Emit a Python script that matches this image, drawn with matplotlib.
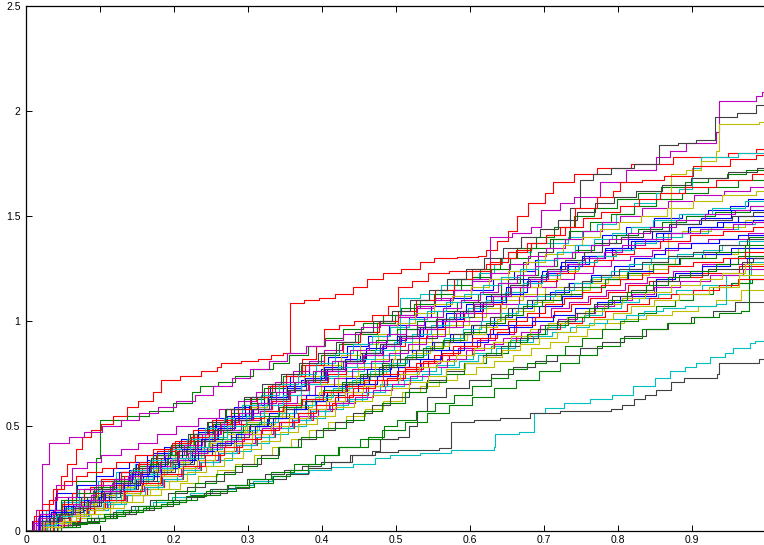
import matplotlib
matplotlib.use('Agg')
import matplotlib.pyplot as plt

x_ticks = [0, 0.1, 0.2, 0.3, 0.4, 0.5, 0.6, 0.7, 0.8, 0.9]
x_tick_labels = ['0', '0.1', '0.2', '0.3', '0.4', '0.5', '0.6', '0.7', '0.8', '0.9']
y_ticks = [0, 0.5, 1, 1.5, 2, 2.5]
y_tick_labels = ['0', '0.5', '1', '1.5', '2', '2.5']

# each path: list of (x, y) jump points of a step curve (value after the jump)
path_b1 = [(0,0),(0.013,0.03),(0.031,0.06),(0.052,0.1),(0.071,0.14),(0.093,0.19),(0.118,0.24),(0.139,0.29),(0.163,0.34),(0.186,0.39),(0.209,0.44),(0.232,0.49),(0.257,0.54),(0.281,0.59),(0.304,0.64),(0.33,0.69),(0.357,0.74),(0.383,0.79),(0.408,0.83),(0.434,0.88),(0.462,0.93),(0.491,0.98),(0.518,1.02),(0.547,1.07),(0.573,1.11),(0.602,1.15),(0.631,1.2),(0.659,1.24),(0.688,1.29),(0.717,1.33),(0.746,1.36),(0.779,1.41),(0.811,1.45),(0.848,1.49),(0.887,1.51),(0.921,1.53),(0.952,1.55),(0.976,1.58),(1.0,1.58)]
path_b2 = [(0,0),(0.018,0.05),(0.031,0.1),(0.057,0.16),(0.078,0.2),(0.101,0.24),(0.126,0.28),(0.148,0.32),(0.172,0.37),(0.196,0.41),(0.221,0.45),(0.247,0.5),(0.272,0.55),(0.296,0.6),(0.322,0.64),(0.347,0.68),(0.371,0.72),(0.398,0.77),(0.426,0.81),(0.452,0.85),(0.479,0.89),(0.507,0.93),(0.536,0.97),(0.563,1.01),(0.591,1.05),(0.618,1.09),(0.648,1.14),(0.677,1.19),(0.703,1.23),(0.732,1.27),(0.761,1.31),(0.792,1.35),(0.823,1.38),(0.861,1.42),(0.897,1.45),(0.934,1.47),(0.962,1.5),(1.0,1.5)]
path_b3 = [(0,0),(0.008,0.05),(0.022,0.1),(0.041,0.18),(0.069,0.22),(0.094,0.26),(0.117,0.3),(0.139,0.33),(0.163,0.36),(0.186,0.4),(0.207,0.43),(0.232,0.47),(0.256,0.51),(0.279,0.55),(0.302,0.6),(0.327,0.64),(0.353,0.69),(0.377,0.73),(0.403,0.78),(0.431,0.82),(0.459,0.87),(0.486,0.91),(0.513,0.96),(0.539,1.0),(0.567,1.04),(0.594,1.08),(0.622,1.12),(0.648,1.16),(0.671,1.2),(0.697,1.24),(0.723,1.28),(0.752,1.31),(0.783,1.35),(0.814,1.39),(0.846,1.43),(0.871,1.46),(0.912,1.49),(0.953,1.53),(1.0,1.53)]
path_b4 = [(0,0),(0.028,0.04),(0.052,0.08),(0.073,0.12),(0.098,0.16),(0.122,0.2),(0.148,0.25),(0.173,0.29),(0.196,0.33),(0.224,0.38),(0.251,0.42),(0.277,0.47),(0.303,0.51),(0.329,0.56),(0.352,0.6),(0.378,0.65),(0.403,0.69),(0.432,0.73),(0.461,0.77),(0.493,0.82),(0.522,0.86),(0.548,0.9),(0.573,0.94),(0.604,0.98),(0.633,1.02),(0.657,1.06),(0.684,1.1),(0.708,1.14),(0.734,1.18),(0.764,1.22),(0.794,1.26),(0.822,1.3),(0.848,1.32),(0.863,1.35),(0.898,1.37),(0.937,1.39),(0.962,1.41),(1.0,1.41)]
path_b5 = [(0,0),(0.019,0.03),(0.043,0.07),(0.062,0.1),(0.087,0.14),(0.112,0.18),(0.133,0.22),(0.154,0.26),(0.182,0.3),(0.206,0.34),(0.229,0.38),(0.252,0.42),(0.277,0.46),(0.301,0.5),(0.326,0.54),(0.352,0.58),(0.379,0.62),(0.407,0.66),(0.434,0.7),(0.463,0.74),(0.492,0.78),(0.517,0.82),(0.543,0.86),(0.572,0.9),(0.603,0.94),(0.631,0.98),(0.662,1.02),(0.693,1.07),(0.724,1.12),(0.751,1.16),(0.782,1.2),(0.814,1.24),(0.847,1.27),(0.882,1.3),(0.914,1.32),(0.953,1.35),(1.0,1.35)]
path_b6 = [(0,0),(0.022,0.05),(0.041,0.09),(0.063,0.12),(0.084,0.15),(0.107,0.18),(0.133,0.22),(0.158,0.26),(0.183,0.3),(0.207,0.34),(0.232,0.38),(0.258,0.42),(0.284,0.46),(0.309,0.5),(0.334,0.54),(0.362,0.58),(0.392,0.62),(0.421,0.66),(0.448,0.7),(0.474,0.74),(0.503,0.78),(0.532,0.82),(0.561,0.86),(0.592,0.9),(0.624,0.94),(0.653,0.97),(0.684,1.0),(0.712,1.03),(0.742,1.06),(0.772,1.09),(0.803,1.12),(0.852,1.2),(0.877,1.23),(0.913,1.26),(0.952,1.3),(1.0,1.3)]
path_b7 = [(0,0),(0.017,0.07),(0.034,0.09),(0.052,0.12),(0.078,0.15),(0.101,0.19),(0.122,0.23),(0.143,0.27),(0.166,0.31),(0.188,0.35),(0.211,0.39),(0.236,0.44),(0.259,0.49),(0.283,0.54),(0.307,0.58),(0.331,0.63),(0.356,0.67),(0.381,0.72),(0.407,0.77),(0.432,0.81),(0.458,0.85),(0.483,0.89),(0.502,0.93),(0.533,0.97),(0.562,1.01),(0.587,1.05),(0.613,1.09),(0.642,1.13),(0.672,1.18),(0.696,1.22),(0.722,1.26),(0.751,1.3),(0.783,1.34),(0.818,1.38),(0.852,1.42),(0.894,1.45),(0.942,1.47),(0.982,1.48),(1.0,1.48)]

path_g1 = [(0,0),(0.018,0.05),(0.047,0.12),(0.068,0.24),(0.094,0.35),(0.1,0.53),(0.137,0.55),(0.166,0.57),(0.198,0.61),(0.224,0.66),(0.235,0.69),(0.259,0.71),(0.283,0.74),(0.307,0.77),(0.334,0.8),(0.356,0.84),(0.381,0.88),(0.404,0.92),(0.428,0.96),(0.456,0.99),(0.482,1.03),(0.507,1.06),(0.533,1.1),(0.561,1.15),(0.588,1.2),(0.613,1.25),(0.641,1.3),(0.664,1.35),(0.689,1.4),(0.714,1.45),(0.741,1.5),(0.768,1.54),(0.798,1.58),(0.827,1.61),(0.858,1.64),(0.891,1.66),(0.922,1.68),(0.947,1.7),(0.973,1.72),(1.0,1.72)]
path_g2 = [(0,0),(0.027,0.06),(0.048,0.1),(0.072,0.15),(0.097,0.2),(0.121,0.25),(0.147,0.3),(0.172,0.36),(0.196,0.41),(0.221,0.46),(0.246,0.52),(0.27,0.58),(0.294,0.63),(0.321,0.68),(0.347,0.74),(0.372,0.79),(0.398,0.84),(0.423,0.89),(0.449,0.94),(0.474,0.99),(0.499,1.03),(0.524,1.08),(0.551,1.13),(0.578,1.17),(0.603,1.21),(0.628,1.25),(0.654,1.3),(0.681,1.35),(0.708,1.39),(0.734,1.43),(0.762,1.47),(0.791,1.51),(0.822,1.55),(0.852,1.58),(0.887,1.61),(0.922,1.64),(0.962,1.67),(1.0,1.67)]
path_g3 = [(0,0),(0.021,0.04),(0.042,0.08),(0.061,0.12),(0.083,0.16),(0.103,0.21),(0.128,0.26),(0.152,0.31),(0.176,0.36),(0.201,0.41),(0.227,0.46),(0.253,0.51),(0.277,0.56),(0.304,0.61),(0.331,0.66),(0.362,0.71),(0.391,0.76),(0.422,0.81),(0.447,0.86),(0.473,0.91),(0.502,0.96),(0.528,1.0),(0.556,1.05),(0.583,1.09),(0.611,1.13),(0.642,1.18),(0.667,1.22),(0.692,1.26),(0.717,1.3),(0.742,1.34),(0.768,1.37),(0.797,1.41),(0.827,1.44),(0.859,1.47),(0.892,1.5),(0.931,1.52),(0.978,1.55),(1.0,1.55)]
path_g4 = [(0,0),(0.038,0.02),(0.062,0.035),(0.083,0.05),(0.107,0.07),(0.134,0.09),(0.158,0.11),(0.182,0.13),(0.207,0.15),(0.231,0.17),(0.262,0.19),(0.284,0.21),(0.308,0.23),(0.334,0.26),(0.357,0.29),(0.381,0.32),(0.403,0.36),(0.422,0.4),(0.462,0.45),(0.484,0.5),(0.502,0.53),(0.527,0.57),(0.553,0.61),(0.578,0.65),(0.603,0.69),(0.628,0.73),(0.652,0.77),(0.677,0.8),(0.703,0.84),(0.728,0.88),(0.752,0.92),(0.778,0.96),(0.803,1.0),(0.827,1.04),(0.852,1.07),(0.877,1.1),(0.902,1.13),(0.928,1.16),(0.953,1.18),(0.981,1.2),(1.0,1.2)]
path_g5 = [(0,0),(0.032,0.02),(0.057,0.04),(0.082,0.06),(0.106,0.08),(0.131,0.1),(0.162,0.12),(0.191,0.14),(0.216,0.165),(0.243,0.19),(0.271,0.22),(0.302,0.25),(0.331,0.28),(0.362,0.32),(0.391,0.36),(0.423,0.4),(0.452,0.44),(0.481,0.48),(0.512,0.52),(0.542,0.56),(0.571,0.6),(0.603,0.64),(0.632,0.68),(0.662,0.72),(0.693,0.76),(0.722,0.8),(0.747,0.84),(0.772,0.88),(0.803,0.92),(0.832,0.96),(0.866,0.99),(0.903,1.02),(0.937,1.04),(0.966,1.05),(0.977,1.4),(1.0,1.4)]
path_g6 = [(0,0),(0.019,0.08),(0.047,0.15),(0.068,0.18),(0.092,0.21),(0.117,0.24),(0.143,0.28),(0.168,0.32),(0.192,0.36),(0.217,0.4),(0.242,0.44),(0.266,0.47),(0.293,0.51),(0.318,0.55),(0.342,0.59),(0.371,0.63),(0.402,0.67),(0.427,0.71),(0.452,0.75),(0.482,0.79),(0.512,0.83),(0.537,0.87),(0.563,0.91),(0.592,0.95),(0.622,0.99),(0.647,1.03),(0.672,1.07),(0.697,1.1),(0.723,1.13),(0.752,1.16),(0.782,1.2),(0.812,1.23),(0.847,1.27),(0.884,1.3),(0.932,1.33),(0.972,1.36),(1.0,1.36)]
path_g7 = [(0,0),(0.047,0.02),(0.073,0.04),(0.098,0.06),(0.122,0.09),(0.151,0.12),(0.176,0.15),(0.202,0.19),(0.228,0.23),(0.257,0.27),(0.283,0.31),(0.312,0.35),(0.341,0.4),(0.372,0.45),(0.401,0.49),(0.432,0.53),(0.457,0.57),(0.481,0.61),(0.512,0.66),(0.541,0.71),(0.567,0.75),(0.592,0.8),(0.622,0.85),(0.651,0.9),(0.677,0.94),(0.702,0.98),(0.732,1.02),(0.761,1.06),(0.787,1.1),(0.812,1.14),(0.838,1.17),(0.867,1.21),(0.897,1.24),(0.932,1.27),(0.962,1.31),(1.0,1.31)]

path_r1 = [(0,0),(0.011,0.07),(0.022,0.13),(0.036,0.2),(0.047,0.26),(0.056,0.32),(0.067,0.39),(0.076,0.45),(0.088,0.48),(0.102,0.51),(0.118,0.55),(0.136,0.59),(0.152,0.62),(0.171,0.66),(0.182,0.72),(0.208,0.74),(0.236,0.76),(0.258,0.78),(0.263,0.8),(0.291,0.81),(0.313,0.82),(0.331,0.84),(0.347,0.85),(0.357,1.085),(0.376,1.1),(0.396,1.11),(0.418,1.13),(0.442,1.16),(0.461,1.2),(0.483,1.23),(0.507,1.25),(0.532,1.28),(0.551,1.3),(0.583,1.305),(0.611,1.31),(0.621,1.34),(0.637,1.38),(0.652,1.43),(0.663,1.5),(0.678,1.56),(0.701,1.61),(0.712,1.66),(0.741,1.7),(0.772,1.73),(0.818,1.75),(0.874,1.78),(0.948,1.8),(0.986,1.82),(1.0,1.82)]
path_r2 = [(0,0),(0.021,0.05),(0.036,0.1),(0.052,0.15),(0.078,0.2),(0.102,0.25),(0.128,0.28),(0.152,0.32),(0.177,0.36),(0.203,0.4),(0.231,0.46),(0.262,0.52),(0.287,0.58),(0.312,0.64),(0.333,0.7),(0.352,0.75),(0.373,0.82),(0.392,0.88),(0.403,0.96),(0.423,0.98),(0.443,1.0),(0.468,1.03),(0.489,1.07),(0.503,1.16),(0.522,1.19),(0.543,1.23),(0.571,1.24),(0.603,1.25),(0.622,1.27),(0.642,1.3),(0.662,1.34),(0.682,1.37),(0.703,1.41),(0.722,1.45),(0.742,1.54),(0.772,1.59),(0.793,1.62),(0.803,1.66),(0.832,1.67),(0.862,1.69),(0.901,1.74),(0.951,1.77),(0.986,1.79),(1.0,1.79)]
path_r3 = [(0,0),(0.027,0.08),(0.048,0.13),(0.062,0.18),(0.087,0.21),(0.104,0.24),(0.128,0.28),(0.153,0.33),(0.177,0.38),(0.202,0.43),(0.226,0.48),(0.252,0.53),(0.277,0.58),(0.303,0.64),(0.327,0.69),(0.352,0.74),(0.377,0.79),(0.403,0.85),(0.428,0.9),(0.452,0.95),(0.477,1.0),(0.503,1.05),(0.527,1.1),(0.553,1.15),(0.578,1.2),(0.603,1.24),(0.627,1.28),(0.652,1.33),(0.677,1.37),(0.703,1.41),(0.728,1.45),(0.753,1.49),(0.777,1.52),(0.803,1.55),(0.828,1.58),(0.857,1.61),(0.891,1.64),(0.932,1.67),(0.981,1.7),(1.0,1.7)]
path_r4 = [(0,0),(0.018,0.03),(0.037,0.07),(0.053,0.1),(0.072,0.14),(0.093,0.18),(0.113,0.22),(0.132,0.26),(0.157,0.3),(0.182,0.35),(0.207,0.39),(0.233,0.44),(0.258,0.49),(0.283,0.53),(0.307,0.58),(0.332,0.62),(0.357,0.67),(0.383,0.71),(0.408,0.75),(0.432,0.8),(0.457,0.84),(0.483,0.88),(0.512,0.92),(0.542,0.96),(0.566,1.0),(0.592,1.04),(0.616,1.08),(0.643,1.12),(0.667,1.16),(0.692,1.19),(0.717,1.23),(0.742,1.26),(0.768,1.29),(0.793,1.32),(0.822,1.35),(0.857,1.38),(0.897,1.41),(0.942,1.43),(0.982,1.45),(1.0,1.45)]
path_r5 = [(0,0),(0.028,0.02),(0.052,0.05),(0.073,0.08),(0.092,0.11),(0.113,0.14),(0.137,0.17),(0.163,0.21),(0.187,0.25),(0.212,0.29),(0.237,0.33),(0.262,0.37),(0.288,0.41),(0.312,0.45),(0.337,0.49),(0.362,0.53),(0.388,0.57),(0.413,0.61),(0.437,0.65),(0.462,0.69),(0.488,0.73),(0.512,0.77),(0.537,0.81),(0.562,0.85),(0.587,0.88),(0.613,0.92),(0.637,0.95),(0.662,0.98),(0.688,1.02),(0.713,1.05),(0.737,1.08),(0.762,1.11),(0.787,1.14),(0.813,1.17),(0.842,1.19),(0.873,1.21),(0.913,1.23),(0.963,1.26),(1.0,1.26)]
path_r6 = [(0,0),(0.009,0.05),(0.018,0.1),(0.031,0.15),(0.042,0.2),(0.051,0.24),(0.067,0.26),(0.082,0.28),(0.103,0.3),(0.122,0.33),(0.147,0.36),(0.172,0.39),(0.197,0.42),(0.223,0.45),(0.247,0.48),(0.272,0.51),(0.297,0.54),(0.322,0.57),(0.347,0.6),(0.373,0.63),(0.402,0.66),(0.432,0.69),(0.457,0.72),(0.483,0.75),(0.512,0.78),(0.543,0.81),(0.572,0.84),(0.603,0.87),(0.632,0.9),(0.662,0.93),(0.692,0.96),(0.722,0.99),(0.752,1.02),(0.782,1.05),(0.812,1.08),(0.842,1.11),(0.872,1.13),(0.902,1.15),(0.937,1.17),(0.962,1.2),(1.0,1.2)]
path_r7 = [(0,0),(0.037,0.05),(0.058,0.08),(0.082,0.11),(0.107,0.15),(0.133,0.19),(0.157,0.23),(0.183,0.27),(0.212,0.31),(0.242,0.36),(0.267,0.4),(0.292,0.44),(0.317,0.48),(0.342,0.52),(0.367,0.56),(0.392,0.6),(0.417,0.64),(0.442,0.68),(0.472,0.72),(0.502,0.76),(0.527,0.8),(0.552,0.84),(0.577,0.88),(0.603,0.92),(0.627,0.96),(0.652,1.0),(0.677,1.04),(0.702,1.08),(0.727,1.11),(0.752,1.14),(0.777,1.17),(0.803,1.2),(0.832,1.23),(0.867,1.26),(0.902,1.28),(0.942,1.3),(0.972,1.33),(1.0,1.33)]

path_c1 = [(0,0),(0.027,0.1),(0.048,0.14),(0.071,0.2),(0.097,0.24),(0.122,0.28),(0.147,0.32),(0.172,0.36),(0.197,0.4),(0.222,0.45),(0.247,0.49),(0.272,0.53),(0.297,0.56),(0.322,0.6),(0.352,0.65),(0.382,0.7),(0.407,0.73),(0.432,0.76),(0.457,0.8),(0.482,0.84),(0.505,1.11),(0.532,1.13),(0.561,1.17),(0.582,1.2),(0.612,1.23),(0.632,1.27),(0.643,1.3),(0.652,1.33),(0.682,1.37),(0.732,1.4),(0.752,1.43),(0.772,1.46),(0.797,1.51),(0.822,1.56),(0.852,1.61),(0.882,1.63),(0.9,1.73),(0.912,1.78),(0.962,1.8),(1.0,1.8)]
path_c2 = [(0,0),(0.027,0.03),(0.052,0.045),(0.072,0.06),(0.097,0.08),(0.122,0.1),(0.147,0.12),(0.172,0.14),(0.197,0.16),(0.222,0.18),(0.252,0.2),(0.282,0.22),(0.307,0.24),(0.332,0.26),(0.357,0.275),(0.382,0.29),(0.412,0.305),(0.442,0.32),(0.471,0.35),(0.492,0.36),(0.532,0.372),(0.575,0.385),(0.632,0.4),(0.634,0.46),(0.666,0.47),(0.686,0.56),(0.701,0.585),(0.727,0.61),(0.762,0.63),(0.792,0.65),(0.82,0.69),(0.85,0.73),(0.87,0.76),(0.89,0.78),(0.905,0.8),(0.925,0.83),(0.945,0.85),(0.955,0.87),(0.978,0.895),(0.985,0.905),(1.0,0.905)]
path_c3 = [(0,0),(0.038,0.04),(0.059,0.07),(0.078,0.1),(0.104,0.13),(0.129,0.17),(0.154,0.2),(0.178,0.24),(0.204,0.27),(0.228,0.31),(0.253,0.34),(0.278,0.38),(0.304,0.42),(0.328,0.46),(0.354,0.5),(0.378,0.54),(0.404,0.58),(0.428,0.62),(0.454,0.66),(0.478,0.7),(0.503,0.73),(0.528,0.76),(0.554,0.79),(0.578,0.82),(0.604,0.85),(0.628,0.88),(0.654,0.91),(0.678,0.94),(0.704,0.97),(0.728,1.0),(0.754,1.03),(0.778,1.06),(0.804,1.09),(0.828,1.11),(0.854,1.13),(0.878,1.15),(0.914,1.17),(0.954,1.18),(0.978,1.2),(1.0,1.2)]
path_c4 = [(0,0),(0.022,0.05),(0.038,0.08),(0.053,0.11),(0.072,0.15),(0.092,0.19),(0.117,0.24),(0.142,0.29),(0.167,0.34),(0.192,0.39),(0.217,0.44),(0.242,0.49),(0.267,0.54),(0.292,0.6),(0.317,0.65),(0.342,0.7),(0.367,0.75),(0.392,0.8),(0.417,0.85),(0.442,0.89),(0.467,0.93),(0.492,0.97),(0.517,1.01),(0.542,1.05),(0.567,1.09),(0.592,1.13),(0.617,1.17),(0.642,1.21),(0.667,1.25),(0.692,1.29),(0.717,1.33),(0.742,1.36),(0.767,1.39),(0.792,1.42),(0.817,1.45),(0.847,1.48),(0.882,1.51),(0.927,1.54),(0.972,1.57),(1.0,1.57)]
path_c5 = [(0,0),(0.028,0.07),(0.062,0.12),(0.09,0.15),(0.115,0.19),(0.14,0.23),(0.165,0.27),(0.19,0.31),(0.215,0.35),(0.24,0.39),(0.265,0.44),(0.29,0.48),(0.315,0.52),(0.34,0.56),(0.365,0.6),(0.39,0.64),(0.415,0.68),(0.44,0.72),(0.465,0.76),(0.49,0.8),(0.515,0.84),(0.54,0.88),(0.565,0.92),(0.59,0.96),(0.615,1.0),(0.64,1.04),(0.665,1.08),(0.69,1.12),(0.715,1.15),(0.74,1.18),(0.765,1.21),(0.79,1.24),(0.815,1.27),(0.845,1.3),(0.88,1.32),(0.915,1.34),(0.94,1.36),(0.963,1.38),(1.0,1.38)]
path_c6 = [(0,0),(0.036,0.04),(0.061,0.07),(0.085,0.1),(0.111,0.13),(0.135,0.17),(0.161,0.21),(0.185,0.25),(0.211,0.29),(0.235,0.33),(0.261,0.37),(0.285,0.41),(0.311,0.45),(0.335,0.49),(0.361,0.53),(0.385,0.57),(0.411,0.6),(0.435,0.63),(0.461,0.66),(0.485,0.69),(0.511,0.72),(0.535,0.75),(0.561,0.78),(0.585,0.81),(0.611,0.84),(0.635,0.87),(0.661,0.9),(0.685,0.93),(0.711,0.95),(0.735,0.97),(0.761,0.99),(0.785,1.01),(0.811,1.03),(0.835,1.05),(0.861,1.06),(0.891,1.07),(0.932,1.08),(0.946,1.22),(0.98,1.28),(1.0,1.28)]
path_c7 = [(0,0),(0.021,0.03),(0.041,0.07),(0.062,0.11),(0.082,0.14),(0.122,0.2),(0.147,0.25),(0.172,0.3),(0.197,0.35),(0.222,0.4),(0.247,0.45),(0.272,0.5),(0.297,0.55),(0.322,0.6),(0.347,0.65),(0.372,0.7),(0.397,0.74),(0.422,0.78),(0.447,0.82),(0.472,0.86),(0.497,0.9),(0.522,0.94),(0.547,0.98),(0.572,1.02),(0.597,1.06),(0.622,1.1),(0.647,1.14),(0.672,1.18),(0.697,1.22),(0.722,1.25),(0.747,1.28),(0.772,1.31),(0.797,1.34),(0.822,1.37),(0.852,1.4),(0.887,1.42),(0.922,1.44),(0.962,1.46),(0.985,1.47),(1.0,1.47)]

path_m1 = [(0,0),(0.017,0.08),(0.031,0.15),(0.041,0.22),(0.062,0.3),(0.083,0.33),(0.102,0.36),(0.128,0.39),(0.151,0.42),(0.177,0.46),(0.203,0.5),(0.232,0.54),(0.261,0.58),(0.287,0.62),(0.311,0.66),(0.336,0.71),(0.361,0.76),(0.382,0.81),(0.403,0.86),(0.427,0.9),(0.452,0.95),(0.477,0.98),(0.503,1.02),(0.527,1.06),(0.552,1.1),(0.577,1.15),(0.603,1.2),(0.627,1.40),(0.657,1.42),(0.682,1.45),(0.696,1.53),(0.721,1.56),(0.741,1.59),(0.776,1.66),(0.811,1.72),(0.852,1.78),(0.87,1.81),(0.892,1.85),(0.932,1.9),(0.936,2.05),(0.986,2.07),(0.995,2.09),(1.0,2.09)]
path_m2 = [(0,0),(0.014,0.1),(0.021,0.32),(0.031,0.42),(0.058,0.45),(0.078,0.47),(0.103,0.5),(0.128,0.53),(0.153,0.56),(0.178,0.59),(0.203,0.62),(0.228,0.65),(0.253,0.69),(0.278,0.73),(0.303,0.77),(0.328,0.81),(0.353,0.85),(0.378,0.88),(0.403,0.91),(0.428,0.94),(0.453,0.97),(0.478,1.0),(0.503,1.03),(0.528,1.07),(0.553,1.11),(0.578,1.15),(0.603,1.19),(0.628,1.23),(0.653,1.27),(0.678,1.31),(0.703,1.35),(0.728,1.39),(0.753,1.43),(0.778,1.47),(0.803,1.5),(0.833,1.54),(0.868,1.57),(0.903,1.6),(0.943,1.62),(0.978,1.64),(1.0,1.64)]
path_m3 = [(0,0),(0.016,0.06),(0.034,0.09),(0.051,0.12),(0.071,0.15),(0.091,0.19),(0.116,0.23),(0.141,0.27),(0.166,0.31),(0.191,0.35),(0.216,0.39),(0.241,0.44),(0.266,0.48),(0.291,0.53),(0.316,0.57),(0.341,0.61),(0.366,0.65),(0.391,0.69),(0.416,0.73),(0.441,0.77),(0.466,0.81),(0.491,0.85),(0.516,0.89),(0.541,0.93),(0.566,0.97),(0.591,1.0),(0.616,1.04),(0.641,1.08),(0.666,1.12),(0.691,1.16),(0.716,1.2),(0.741,1.23),(0.766,1.26),(0.791,1.29),(0.816,1.31),(0.846,1.34),(0.881,1.37),(0.921,1.39),(0.976,1.42),(1.0,1.42)]
path_m4 = [(0,0),(0.029,0.03),(0.059,0.07),(0.084,0.11),(0.109,0.15),(0.134,0.19),(0.159,0.22),(0.184,0.26),(0.209,0.3),(0.234,0.34),(0.259,0.38),(0.284,0.42),(0.309,0.46),(0.334,0.5),(0.359,0.54),(0.384,0.58),(0.409,0.62),(0.434,0.66),(0.459,0.69),(0.484,0.72),(0.509,0.76),(0.534,0.8),(0.559,0.84),(0.584,0.87),(0.609,0.91),(0.634,0.94),(0.659,0.98),(0.684,1.02),(0.709,1.06),(0.734,1.09),(0.759,1.12),(0.784,1.15),(0.809,1.18),(0.839,1.21),(0.874,1.24),(0.914,1.27),(0.975,1.3),(1.0,1.3)]
path_m5 = [(0,0),(0.011,0.04),(0.038,0.1),(0.063,0.13),(0.088,0.17),(0.113,0.21),(0.138,0.26),(0.163,0.31),(0.188,0.36),(0.213,0.41),(0.238,0.46),(0.263,0.51),(0.288,0.56),(0.313,0.61),(0.338,0.66),(0.363,0.71),(0.388,0.76),(0.413,0.81),(0.438,0.86),(0.463,0.9),(0.488,0.94),(0.513,0.98),(0.538,1.02),(0.563,1.06),(0.588,1.1),(0.613,1.14),(0.638,1.18),(0.663,1.22),(0.688,1.26),(0.713,1.3),(0.738,1.33),(0.763,1.36),(0.788,1.39),(0.813,1.42),(0.843,1.45),(0.878,1.48),(0.918,1.51),(0.958,1.53),(0.978,1.55),(1.0,1.55)]
path_m6 = [(0,0),(0.019,0.08),(0.039,0.16),(0.069,0.2),(0.094,0.22),(0.119,0.25),(0.144,0.28),(0.169,0.31),(0.194,0.34),(0.219,0.37),(0.244,0.4),(0.269,0.43),(0.294,0.46),(0.319,0.49),(0.344,0.52),(0.369,0.55),(0.394,0.58),(0.419,0.61),(0.444,0.64),(0.469,0.67),(0.494,0.7),(0.519,0.74),(0.544,0.78),(0.569,0.82),(0.594,0.86),(0.619,0.89),(0.644,0.92),(0.669,0.95),(0.694,0.98),(0.719,1.01),(0.744,1.04),(0.769,1.07),(0.794,1.1),(0.819,1.13),(0.849,1.16),(0.884,1.19),(0.924,1.22),(0.969,1.25),(1.0,1.25)]
path_m7 = [(0,0),(0.026,0.05),(0.046,0.08),(0.066,0.12),(0.086,0.15),(0.106,0.19),(0.131,0.23),(0.156,0.28),(0.181,0.33),(0.206,0.38),(0.231,0.43),(0.256,0.48),(0.281,0.53),(0.306,0.58),(0.331,0.63),(0.356,0.67),(0.381,0.72),(0.406,0.76),(0.431,0.8),(0.456,0.84),(0.481,0.88),(0.506,0.92),(0.531,0.96),(0.556,1.0),(0.581,1.04),(0.606,1.08),(0.631,1.12),(0.656,1.16),(0.681,1.2),(0.706,1.24),(0.731,1.27),(0.756,1.3),(0.781,1.33),(0.806,1.36),(0.836,1.39),(0.871,1.42),(0.911,1.44),(0.956,1.46),(0.981,1.47),(1.0,1.47)]

path_y1 = [(0,0),(0.024,0.04),(0.048,0.08),(0.072,0.12),(0.098,0.16),(0.122,0.2),(0.148,0.25),(0.172,0.29),(0.198,0.34),(0.222,0.38),(0.248,0.43),(0.272,0.47),(0.298,0.52),(0.322,0.56),(0.348,0.61),(0.372,0.65),(0.398,0.7),(0.422,0.74),(0.448,0.78),(0.472,0.82),(0.498,0.86),(0.522,0.9),(0.548,0.94),(0.572,0.98),(0.598,1.02),(0.622,1.06),(0.648,1.1),(0.672,1.13),(0.702,1.16),(0.732,1.18),(0.762,1.2),(0.802,1.22),(0.842,1.25),(0.868,1.42),(0.872,1.7),(0.892,1.72),(0.912,1.76),(0.932,1.81),(0.936,1.94),(0.99,1.95),(1.0,1.95)]
path_y2 = [(0,0),(0.016,0.03),(0.036,0.06),(0.061,0.1),(0.081,0.14),(0.101,0.18),(0.126,0.23),(0.151,0.28),(0.176,0.33),(0.201,0.38),(0.226,0.43),(0.251,0.48),(0.276,0.53),(0.301,0.59),(0.326,0.64),(0.351,0.69),(0.376,0.74),(0.401,0.79),(0.426,0.84),(0.451,0.89),(0.476,0.94),(0.501,0.99),(0.526,1.04),(0.551,1.08),(0.576,1.12),(0.601,1.16),(0.626,1.2),(0.651,1.24),(0.676,1.28),(0.701,1.32),(0.726,1.36),(0.751,1.4),(0.776,1.44),(0.801,1.47),(0.831,1.5),(0.866,1.54),(0.901,1.57),(0.941,1.6),(0.986,1.62),(1.0,1.62)]
path_y3 = [(0,0),(0.043,0.03),(0.068,0.06),(0.088,0.08),(0.113,0.11),(0.133,0.14),(0.158,0.17),(0.183,0.2),(0.208,0.23),(0.233,0.26),(0.258,0.29),(0.283,0.32),(0.308,0.36),(0.333,0.4),(0.358,0.44),(0.383,0.48),(0.408,0.52),(0.433,0.55),(0.458,0.58),(0.483,0.62),(0.508,0.66),(0.533,0.69),(0.558,0.72),(0.583,0.75),(0.608,0.78),(0.633,0.81),(0.658,0.84),(0.683,0.87),(0.708,0.9),(0.733,0.93),(0.758,0.96),(0.783,0.99),(0.808,1.01),(0.838,1.03),(0.873,1.05),(0.908,1.07),(0.933,1.1),(0.966,1.15),(1.0,1.15)]
path_y4 = [(0,0),(0.027,0.05),(0.052,0.08),(0.072,0.11),(0.092,0.14),(0.112,0.18),(0.137,0.22),(0.162,0.26),(0.187,0.3),(0.212,0.35),(0.237,0.39),(0.262,0.43),(0.287,0.47),(0.312,0.51),(0.337,0.55),(0.362,0.59),(0.387,0.63),(0.412,0.67),(0.437,0.71),(0.462,0.75),(0.487,0.79),(0.512,0.83),(0.537,0.86),(0.562,0.9),(0.587,0.94),(0.612,0.97),(0.637,1.01),(0.662,1.05),(0.687,1.09),(0.712,1.12),(0.737,1.15),(0.762,1.18),(0.787,1.21),(0.812,1.24),(0.842,1.27),(0.877,1.3),(0.917,1.32),(0.962,1.35),(1.0,1.35)]
path_y5 = [(0,0),(0.021,0.04),(0.041,0.07),(0.056,0.1),(0.076,0.13),(0.096,0.17),(0.121,0.21),(0.146,0.25),(0.171,0.29),(0.196,0.33),(0.221,0.37),(0.246,0.42),(0.271,0.46),(0.296,0.5),(0.321,0.54),(0.346,0.58),(0.371,0.62),(0.396,0.66),(0.421,0.7),(0.446,0.74),(0.471,0.78),(0.496,0.82),(0.521,0.85),(0.546,0.88),(0.571,0.91),(0.596,0.94),(0.621,0.97),(0.636,1.0),(0.642,1.12),(0.671,1.16),(0.696,1.2),(0.721,1.24),(0.746,1.28),(0.771,1.31),(0.796,1.34),(0.821,1.37),(0.851,1.4),(0.886,1.43),(0.926,1.45),(0.972,1.48),(1.0,1.48)]
path_y6 = [(0,0),(0.037,0.04),(0.061,0.07),(0.081,0.1),(0.106,0.14),(0.131,0.18),(0.156,0.22),(0.181,0.26),(0.206,0.3),(0.231,0.34),(0.256,0.38),(0.281,0.42),(0.306,0.46),(0.331,0.5),(0.356,0.54),(0.381,0.58),(0.406,0.62),(0.431,0.66),(0.456,0.69),(0.481,0.72),(0.506,0.75),(0.531,0.78),(0.556,0.81),(0.581,0.84),(0.606,0.87),(0.631,0.9),(0.656,0.93),(0.681,0.96),(0.706,0.99),(0.731,1.02),(0.756,1.05),(0.781,1.08),(0.806,1.11),(0.836,1.14),(0.871,1.17),(0.911,1.2),(0.941,1.23),(0.972,1.27),(1.0,1.27)]
path_y7 = [(0,0),(0.023,0.02),(0.048,0.05),(0.068,0.08),(0.093,0.11),(0.118,0.14),(0.143,0.17),(0.168,0.2),(0.193,0.24),(0.218,0.28),(0.243,0.31),(0.268,0.35),(0.293,0.39),(0.318,0.43),(0.343,0.47),(0.368,0.51),(0.393,0.55),(0.418,0.59),(0.443,0.62),(0.468,0.65),(0.493,0.68),(0.518,0.71),(0.543,0.74),(0.568,0.77),(0.593,0.8),(0.618,0.83),(0.643,0.86),(0.668,0.89),(0.693,0.92),(0.718,0.95),(0.743,0.98),(0.768,1.01),(0.793,1.04),(0.818,1.07),(0.848,1.1),(0.883,1.13),(0.923,1.16),(0.963,1.22),(1.0,1.22)]

path_k1 = [(0,0),(0.028,0.05),(0.049,0.08),(0.071,0.12),(0.096,0.16),(0.121,0.2),(0.146,0.24),(0.171,0.28),(0.196,0.32),(0.221,0.36),(0.251,0.4),(0.281,0.44),(0.306,0.48),(0.331,0.52),(0.356,0.56),(0.381,0.6),(0.406,0.65),(0.431,0.7),(0.456,0.75),(0.481,0.8),(0.506,0.86),(0.531,0.92),(0.556,0.97),(0.581,1.02),(0.606,1.07),(0.631,1.12),(0.652,1.2),(0.671,1.28),(0.692,1.33),(0.712,1.39),(0.735,1.54),(0.749,1.67),(0.766,1.7),(0.791,1.73),(0.821,1.75),(0.856,1.84),(0.881,1.85),(0.906,1.86),(0.931,1.97),(0.961,1.99),(0.986,2.03),(1.0,2.03)]
path_k2 = [(0,0),(0.036,0.03),(0.062,0.045),(0.088,0.06),(0.113,0.08),(0.139,0.1),(0.166,0.12),(0.191,0.14),(0.216,0.16),(0.241,0.18),(0.271,0.205),(0.302,0.23),(0.327,0.25),(0.352,0.27),(0.381,0.3),(0.412,0.33),(0.441,0.36),(0.471,0.375),(0.503,0.385),(0.558,0.395),(0.575,0.52),(0.606,0.53),(0.641,0.54),(0.681,0.56),(0.721,0.57),(0.791,0.58),(0.806,0.6),(0.821,0.63),(0.837,0.65),(0.851,0.67),(0.871,0.71),(0.889,0.73),(0.934,0.75),(0.936,0.8),(0.99,0.82),(1.0,0.82)]
path_k3 = [(0,0),(0.047,0.03),(0.073,0.045),(0.098,0.06),(0.123,0.08),(0.148,0.1),(0.173,0.12),(0.198,0.15),(0.223,0.17),(0.248,0.2),(0.273,0.22),(0.298,0.25),(0.323,0.27),(0.348,0.29),(0.373,0.31),(0.398,0.33),(0.438,0.36),(0.468,0.38),(0.478,0.44),(0.503,0.45),(0.518,0.5),(0.528,0.57),(0.542,0.64),(0.568,0.68),(0.598,0.72),(0.628,0.75),(0.658,0.78),(0.688,0.81),(0.718,0.84),(0.748,0.87),(0.778,0.9),(0.808,0.93),(0.838,0.96),(0.868,0.99),(0.898,1.02),(0.928,1.05),(0.958,1.09),(1.0,1.09)]
path_k4 = [(0,0),(0.018,0.04),(0.036,0.08),(0.054,0.12),(0.074,0.16),(0.094,0.2),(0.119,0.25),(0.144,0.3),(0.169,0.35),(0.194,0.4),(0.219,0.46),(0.244,0.52),(0.269,0.58),(0.294,0.64),(0.319,0.7),(0.344,0.75),(0.369,0.8),(0.394,0.85),(0.419,0.9),(0.444,0.95),(0.469,1.0),(0.494,1.05),(0.519,1.1),(0.544,1.15),(0.569,1.2),(0.594,1.25),(0.619,1.3),(0.644,1.35),(0.669,1.4),(0.694,1.44),(0.719,1.48),(0.744,1.52),(0.769,1.56),(0.794,1.59),(0.824,1.62),(0.859,1.65),(0.899,1.68),(0.949,1.71),(0.988,1.73),(1.0,1.73)]
path_k5 = [(0,0),(0.032,0.06),(0.057,0.09),(0.077,0.12),(0.102,0.16),(0.127,0.2),(0.152,0.24),(0.177,0.28),(0.202,0.32),(0.227,0.36),(0.252,0.41),(0.277,0.45),(0.302,0.5),(0.327,0.54),(0.352,0.58),(0.377,0.62),(0.402,0.66),(0.427,0.7),(0.452,0.74),(0.477,0.78),(0.502,0.82),(0.527,0.86),(0.552,0.9),(0.577,0.94),(0.602,0.98),(0.627,1.02),(0.652,1.06),(0.677,1.1),(0.702,1.13),(0.727,1.16),(0.752,1.19),(0.777,1.22),(0.802,1.25),(0.832,1.28),(0.867,1.31),(0.902,1.33),(0.937,1.36),(0.974,1.39),(1.0,1.39)]
path_k6 = [(0,0),(0.042,0.02),(0.067,0.04),(0.092,0.06),(0.117,0.09),(0.142,0.12),(0.167,0.15),(0.192,0.18),(0.217,0.21),(0.242,0.24),(0.267,0.28),(0.292,0.32),(0.317,0.36),(0.342,0.4),(0.367,0.44),(0.392,0.48),(0.417,0.52),(0.442,0.56),(0.467,0.6),(0.492,0.64),(0.517,0.68),(0.542,0.72),(0.567,0.76),(0.592,0.8),(0.617,0.84),(0.642,0.88),(0.667,0.92),(0.692,0.96),(0.717,1.0),(0.742,1.04),(0.767,1.08),(0.792,1.12),(0.817,1.15),(0.847,1.19),(0.882,1.22),(0.922,1.25),(0.967,1.28),(0.983,1.3),(1.0,1.3)]
path_k7 = [(0,0),(0.022,0.05),(0.044,0.08),(0.064,0.11),(0.084,0.14),(0.104,0.18),(0.129,0.23),(0.154,0.28),(0.179,0.33),(0.204,0.38),(0.229,0.43),(0.254,0.48),(0.279,0.53),(0.304,0.58),(0.329,0.63),(0.354,0.67),(0.379,0.72),(0.404,0.77),(0.429,0.81),(0.454,0.85),(0.479,0.89),(0.504,0.93),(0.529,0.97),(0.554,1.01),(0.579,1.05),(0.604,1.09),(0.629,1.13),(0.654,1.17),(0.679,1.21),(0.704,1.25),(0.729,1.29),(0.754,1.33),(0.779,1.37),(0.804,1.4),(0.834,1.43),(0.869,1.46),(0.909,1.48),(0.954,1.5),(0.983,1.52),(1.0,1.52)]

line_colors = ['#0000ff', '#008000', '#ff0000', '#00bfbf', '#bf00bf', '#bfbf00', '#404040']

groups = [
    [path_b1, path_g1, path_r1, path_c1, path_m1, path_y1, path_k1],
    [path_b2, path_g2, path_r2, path_c2, path_m2, path_y2, path_k2],
    [path_b3, path_g3, path_r3, path_c3, path_m3, path_y3, path_k3],
    [path_b4, path_g4, path_r4, path_c4, path_m4, path_y4, path_k4],
    [path_b5, path_g5, path_r5, path_c5, path_m5, path_y5, path_k5],
    [path_b6, path_g6, path_r6, path_c6, path_m6, path_y6, path_k6],
    [path_b7, path_g7, path_r7, path_c7, path_m7, path_y7, path_k7],
]

plt.rcParams['font.family'] = ['Liberation Sans', 'DejaVu Sans']

fig = plt.figure(figsize=(7.64, 5.45), dpi=100)
ax = fig.add_axes([26 / 764, 14 / 545, 738 / 764, 525 / 545])

for group in groups:
    for path, col in zip(group, line_colors):
        xs = [p[0] for p in path]
        ys = [p[1] for p in path]
        ax.step(xs, ys, where='post', color=col, linewidth=0.8)

ax.set_xlim(0, 0.9973)
ax.set_ylim(0, 2.5)
ax.set_xticks(x_ticks)
ax.set_xticklabels(x_tick_labels)
ax.set_yticks(y_ticks)
ax.set_yticklabels(y_tick_labels)
ax.tick_params(direction='in', length=4, width=0.7, top=True, right=False,
               labelsize=7.5, colors='black', pad=3)
ax.tick_params(axis='y', pad=4)
for side in ['left', 'bottom', 'top']:
    ax.spines[side].set_linewidth(0.9)
ax.spines['right'].set_visible(False)

fig.savefig('out.png', dpi=100)
